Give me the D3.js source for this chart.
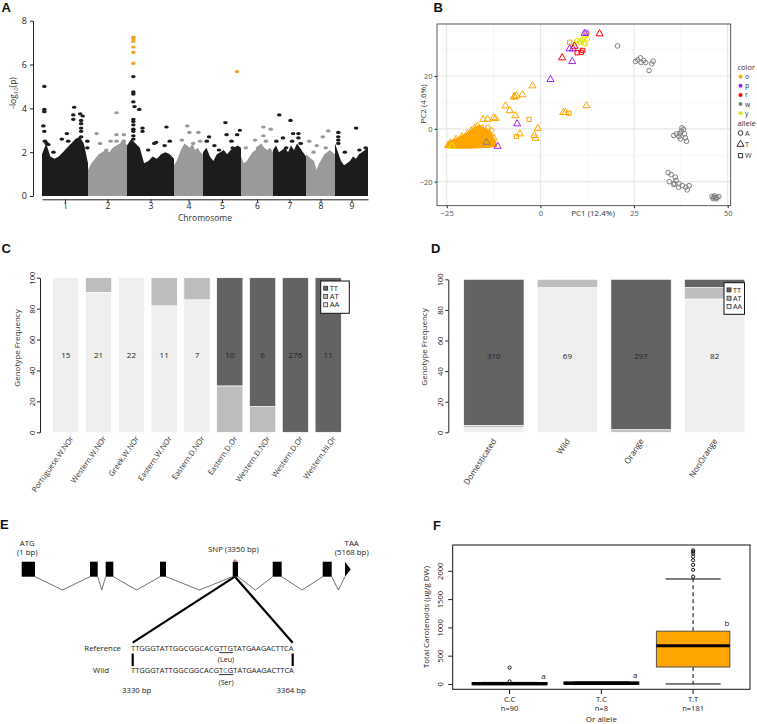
<!DOCTYPE html>
<html>
<head>
<meta charset="utf-8">
<script src="https://cdn.jsdelivr.net/npm/d3@7"></script>
<style>
  body { margin: 0; background: #fff; }
  text { font-family: "Open Sans", sans-serif; }
</style>
</head>
<body>
<svg id="fig" width="757" height="724"></svg>
<script>
// ---------- A: manhattan ----------
const chromosomes = ["1", "2", "3", "4", "5", "6", "7", "8", "9"];
const chromLength = [46, 39, 47, 29, 38, 32, 33, 29, 33];
// upper edge of the dense band of SNPs, read along each chromosome
const bandTops = [
  [1.9, 2.4, 1.8, 1.7, 1.8, 2.0, 2.2, 2.4, 2.6, 2.7, 2.4, 1.5],
  [1.2, 1.5, 1.7, 1.9, 2.0, 2.1, 2.0, 2.2, 2.3, 2.4, 2.6, 2.3],
  [2.3, 2.6, 2.4, 2.2, 1.5, 1.6, 1.8, 1.7, 1.9, 2.0, 1.9, 1.7],
  [1.4, 1.6, 1.9, 2.2, 2.4, 2.3, 2.2, 2.4, 2.1, 2.2, 2.0, 1.9],
  [2.0, 2.2, 1.8, 1.6, 1.9, 2.0, 2.1, 1.9, 2.1, 2.2, 2.3, 2.2],
  [1.8, 1.5, 1.6, 1.8, 2.0, 2.1, 2.3, 2.4, 2.2, 2.1, 2.2, 2.0],
  [2.1, 2.3, 2.0, 2.1, 2.2, 2.0, 2.3, 2.1, 2.4, 2.2, 2.0, 1.8],
  [1.9, 1.8, 1.7, 1.6, 1.2, 1.5, 1.7, 1.9, 2.0, 2.1, 2.0, 1.9],
  [2.4, 2.0, 1.6, 1.4, 1.5, 1.6, 1.8, 1.7, 1.9, 2.0, 2.1, 2.2]
];
// [chromosome index, position within chromosome (0-1), -log10(p)]
const topSnps = [
  [0, 0.05, 5.0], [0, 0.05, 3.95], [0, 0.05, 3.85], [0, 0.05, 2.95], [0, 0.03, 3.2], [0, 0.065, 2.5],
  [0, 0.1, 2.4], [0, 0.14, 2.35], [0, 0.25, 2.0], [0, 0.43, 2.6], [0, 0.54, 2.85], [0, 0.57, 2.5],
  [0, 0.65, 2.3], [0, 0.70, 4.05], [0, 0.68, 3.7], [0, 0.68, 3.5], [0, 0.77, 2.4], [0, 0.83, 3.75],
  [0, 0.885, 3.65], [0, 0.85, 3.45], [0, 0.85, 3.3], [0, 0.85, 3.1], [0, 0.85, 2.95], [0, 0.85, 2.7],
  [0, 0.985, 2.5], [0, 0.985, 2.2],
  [1, 0.22, 2.85], [1, 0.31, 2.4], [1, 0.73, 3.8], [1, 0.73, 2.8], [1, 0.73, 2.5], [1, 0.92, 2.8],
  [1, 0.92, 2.5], [1, 0.58, 2.5], [1, 0.47, 2.1],
  [2, 0.135, 5.45], [2, 0.135, 4.75], [2, 0.135, 4.65], [2, 0.135, 4.3], [2, 0.16, 4.08], [2, 0.26, 3.95],
  [2, 0.135, 3.5], [2, 0.135, 3.4], [2, 0.135, 3.25], [2, 0.135, 3.05], [2, 0.135, 2.95], [2, 0.135, 2.75],
  [2, 0.135, 2.6], [2, 0.33, 3.1], [2, 0.33, 2.95], [2, 0.62, 2.45], [2, 0.58, 2.4], [2, 0.84, 3.15],
  [2, 0.91, 2.5], [2, 0.8, 2.3], [2, 0.45, 2.1],
  [3, 0.46, 3.2], [3, 0.53, 2.9], [3, 0.84, 2.9], [3, 0.27, 2.55], [3, 0.66, 2.4], [3, 0.9, 2.5],
  [4, 0.16, 2.7], [4, 0.1, 2.5], [4, 0.3, 2.3], [4, 0.59, 3.35], [4, 0.62, 2.8], [4, 0.75, 2.5],
  [4, 0.9, 2.8], [4, 0.97, 3.0], [4, 0.78, 2.2], [4, 0.42, 2.1],
  [5, 0.44, 2.55], [5, 0.7, 3.15], [5, 0.93, 3.05], [5, 0.7, 2.75], [5, 0.15, 2.2], [5, 0.53, 2.2], [5, 0.78, 2.5],
  [6, 0.19, 3.7], [6, 0.53, 3.45], [6, 0.61, 2.85], [6, 0.77, 2.85], [6, 0.77, 2.65], [6, 0.3, 2.65],
  [6, 0.1, 2.5], [6, 0.58, 2.5], [6, 0.4, 2.2], [6, 0.84, 2.4],
  [7, 0.11, 2.5], [7, 0.58, 2.7], [7, 0.77, 2.97], [7, 0.37, 2.3], [7, 0.26, 2.0], [7, 0.68, 2.2],
  [8, 0.1, 2.9], [8, 0.1, 2.7], [8, 0.1, 2.55], [8, 0.1, 2.4], [8, 0.64, 3.1], [8, 0.93, 2.2],
  [8, 0.3, 2.0], [8, 0.74, 2.1]
];
const sigSnps = [
  [2, 0.135, 7.25], [2, 0.135, 7.15], [2, 0.135, 7.05], [2, 0.135, 6.8], [2, 0.135, 6.55],
  [2, 0.135, 6.05], [4, 0.895, 5.68]
];
const manhattanTicks = [0, 2, 4, 6, 8];

// ---------- B: PCA ----------
const colorKeys = ["o", "p", "r", "w", "y"];
const colorValues = ["#ffa500", "#a020f0", "#ff0000", "#808080", "#e6e600"];
const alleleKeys = ["A", "T", "W"];
// [PC1, PC2, color, allele]
const pcaPoints = [
  [-2.1, 16.3, "o", "T"], [-6.4, 12.6, "o", "T"], [-6.9, 12.0, "o", "T"], [-4.8, 12.9, "o", "T"],
  [-7.0, 12.3, "o", "T"], [-9.3, 8.7, "o", "T"], [-8.2, 6.9, "o", "T"], [-6.7, 5.0, "o", "T"],
  [-15.3, 3.5, "o", "T"], [-14.1, 3.6, "o", "T"], [-12.5, 4.2, "o", "T"], [-12.0, 3.9, "o", "T"],
  [-5.5, -1.9, "o", "T"], [-1.6, -2.5, "o", "T"], [-1.3, -3.6, "o", "T"], [-0.7, 0.2, "o", "T"],
  [6.1, 6.2, "o", "T"], [6.7, 6.2, "o", "T"], [12.3, 8.8, "o", "T"],
  [-16.8, 1.0, "o", "T"], [-17.5, 0.3, "o", "T"], [-18.5, -0.8, "o", "T"], [-19.5, -1.8, "o", "T"],
  [-21, -3, "o", "T"], [-22.5, -4, "o", "T"], [-24, -5.3, "o", "T"], [-24.7, -6.3, "o", "T"],
  [-23, -6.6, "o", "T"], [-21, -6.5, "o", "T"], [-19, -6.5, "o", "T"], [-17, -6.3, "o", "T"],
  [-15.5, -5.8, "o", "T"], [-13.5, -5, "o", "T"], [-12.5, -3.5, "o", "T"], [-13.5, -2, "o", "T"],
  [-14.5, -1, "o", "T"], [-15.5, 0, "o", "T"], [-16, -2, "o", "T"], [-18, -3, "o", "T"],
  [-20, -4.5, "o", "T"], [-22, -5.5, "o", "T"], [-14, -3.5, "o", "T"], [-12.8, -4.8, "o", "T"], [-15, -4, "o", "T"],
  [-3.0, 3.6, "o", "W"], [-6.4, -2.9, "o", "W"], [7.6, 5.9, "o", "W"], [7.8, 32.8, "o", "W"],
  [-15.5, -5.5, "o", "W"], [-20, -6.2, "o", "W"],
  [-14, 0.5, "o", "A"], [-13, -0.5, "o", "A"],
  [9.3, 32.4, "y", "A"], [10.5, 33.2, "y", "A"], [11.1, 33.7, "y", "A"], [11.7, 34.5, "y", "A"],
  [12.0, 35.3, "y", "A"], [11.6, 32.4, "y", "A"], [12.0, 32.2, "y", "A"], [10.7, 32.8, "y", "A"],
  [9.8, 33.4, "y", "A"], [12.5, 34.1, "y", "A"], [12.6, 36.0, "y", "A"],
  [-23.6, -6.6, "y", "T"],
  [11.8, 36.2, "p", "T"], [7.8, 30.3, "p", "T"], [8.7, 30.3, "p", "T"], [8.5, 25.5, "p", "T"],
  [2.7, 18.7, "p", "T"], [-6.2, 1.9, "p", "T"], [-11.4, -6.6, "p", "T"], [12.2, 36.3, "p", "W"],
  [15.8, 36.0, "r", "T"], [9.1, 31.3, "r", "T"], [5.8, 26.9, "r", "T"],
  [9.8, 28.8, "r", "W"], [10.9, 29.0, "r", "W"], [11.3, 29.7, "r", "W"],
  [-14.4, -5.1, "w", "T"],
  [20.6, 31.4, "w", "A"], [26.0, 26.1, "w", "A"], [26.7, 26.9, "w", "A"], [27.6, 25.9, "w", "A"],
  [28.1, 25.1, "w", "A"], [29.0, 22.1, "w", "A"], [29.7, 24.6, "w", "A"], [30.1, 25.6, "w", "A"],
  [26.9, 25.1, "w", "A"], [25.4, 25.5, "w", "A"],
  [37.8, 0.4, "w", "A"], [38.2, -0.2, "w", "A"], [37.6, -0.9, "w", "A"], [37.2, -1.7, "w", "A"],
  [38.5, -1.9, "w", "A"], [35.6, -2.5, "w", "A"], [37.0, -2.9, "w", "A"], [38.7, -3.4, "w", "A"],
  [37.4, -3.8, "w", "A"], [39.0, -4.7, "w", "A"], [36.3, -1.9, "w", "A"],
  [34.1, -16.6, "w", "A"], [34.9, -17.3, "w", "A"], [36.0, -18.3, "w", "A"], [34.4, -20.0, "w", "A"],
  [35.7, -20.6, "w", "A"], [37.0, -20.8, "w", "A"], [37.9, -21.5, "w", "A"], [38.8, -22.1, "w", "A"],
  [39.2, -23.1, "w", "A"], [39.7, -21.5, "w", "A"], [36.9, -22.1, "w", "A"], [35.6, -21.1, "w", "A"],
  [36.2, -19.5, "w", "A"],
  [45.8, -25.6, "w", "A"], [46.3, -25.9, "w", "A"], [46.7, -26.1, "w", "A"], [47.1, -25.9, "w", "A"],
  [47.6, -25.6, "w", "A"], [46.5, -25.4, "w", "A"], [46.1, -26.4, "w", "A"], [47.0, -26.5, "w", "A"]
];
// outline of the solid mass of overlapping orange triangles
const orangeMass = [
  [-25, -6.8], [-24.5, -5], [-22, -3.5], [-19.5, -1.5], [-17.5, 0.3], [-16.3, 1.3], [-15.2, 0.2],
  [-13.8, -1], [-12.8, -2.8], [-12, -5], [-11.8, -6.5], [-14, -7], [-18, -7.2], [-22, -7.2]
];
const pcaXTicks = [-25, 0, 25, 50];
const pcaYTicks = [-20, 0, 20];

// ---------- C / D: genotype frequencies ----------
const genotypes = ["TT", "AT", "AA"];
const genoColors = { TT: "#636363", AT: "#bdbdbd", AA: "#efefef" };
const groupsC = ["Portuguese.W.NOr", "Western.W.NOr", "Greek.W.NOr", "Eastern.W.NOr", "Eastern.D.NOr",
  "Eastern.D.Or", "Western.D.NOr", "Western.D.Or", "Western.HI.Or"];
const aaC = [100, 90.5, 100, 81.8, 85.7, 0, 0, 0, 0];
const atC = [0, 9.5, 0, 18.2, 14.3, 30, 16.7, 0, 0];
const ttC = [0, 0, 0, 0, 0, 70, 83.3, 100, 100];
const nC = [15, 21, 22, 11, 7, 10, 6, 276, 11];
const groupsD = ["Domesticated", "Wild", "Orange", "NonOrange"];
const aaD = [3, 94.5, 0, 87.1];
const atD = [1.5, 5.5, 1.7, 7.5];
const ttD = [95.5, 0, 98.3, 5.4];
const nD = [310, 69, 297, 82];
const freqTicks = [0, 20, 40, 60, 80, 100];

// ---------- E: gene model ----------
const exons = [[1, 210], [1074, 1195], [1320, 1440], [2173, 2267], [3315, 3398], [3943, 4084], [4728, 4870]];
const lastExon = [5078, 5168];
const snpPos = 3350;
const seqStart = 3330, seqEnd = 3364;
const refSeq = ["TTGGGTATTGGCGGCACG", "T", "T", "G", "TATGAAGACTTCA"];
const wildSeq = ["TTGGGTATTGGCGGCACG", "T", "C", "G", "TATGAAGACTTCA"];

// ---------- F: carotenoids by Or allele ----------
const alleles = ["C.C", "T.C", "T.T"];
const alleleN = [90, 8, 181];
const q1 = [0, 8, 300];
const med = [5, 15, 675];
const q3 = [12, 22, 933];
const whiskLo = [0, 2, 0];
const whiskHi = [28, 35, 1855];
const outliers = [[290, 45], [], [1895, 2017, 2105, 2187, 2250, 2303, 2338, 2362]];
const sigLetters = ["a", "a", "b"];
const letterY = [95, 110, 1030];
const caroTicks = [0, 500, 1000, 1500, 2000];

// =====================================================
const svg = d3.select("#fig");
const FONT = "'Open Sans', sans-serif";

function panelLabel(t, x, y) {
  svg.append("text").attr("x", x).attr("y", y).text(t)
    .style("font-family", "'Liberation Sans', Arial, sans-serif")
    .attr("font-weight", "bold").attr("font-size", 13).attr("fill", "#111");
}
function styleAxis(g, size, col) {
  g.attr("font-family", FONT).attr("font-size", size);
  g.selectAll("text").attr("fill", col || "#222");
  g.selectAll("line,path").attr("stroke", "#222");
}

// ----- panel A -----
panelLabel("A", 1.5, 12);
const chromStart = d3.cumsum([0, ...chromLength]);
const xA = d3.scaleLinear().domain([0, d3.sum(chromLength)]).range([42, 368]);
const yA = d3.scaleLinear().domain([0, 8]).range([196, 20.7]);
const chromColor = i => (i % 2 === 0 ? "#1c1c1c" : "#9a9a9a");

const areaA = d3.area().x(d => xA(d.x)).y0(yA(0)).y1(d => yA(d.v));
bandTops.forEach((tops, i) => {
  const pts = tops.map((v, j) => ({ x: chromStart[i] + j / (tops.length - 1) * chromLength[i], v }));
  svg.append("path").datum(pts).attr("d", areaA).attr("fill", chromColor(i));
});
svg.append("g").selectAll("ellipse").data(topSnps).join("ellipse")
  .attr("cx", d => xA(chromStart[d[0]] + d[1] * chromLength[d[0]]))
  .attr("cy", d => yA(d[2]))
  .attr("rx", 2.3).attr("ry", 1.6)
  .attr("fill", d => chromColor(d[0]));
svg.append("g").selectAll("ellipse").data(sigSnps).join("ellipse")
  .attr("cx", d => xA(chromStart[d[0]] + d[1] * chromLength[d[0]]))
  .attr("cy", d => yA(d[2]))
  .attr("rx", 2.3).attr("ry", 1.6)
  .attr("fill", "#f3a521");

const ayA = svg.append("g").attr("transform", "translate(33,0)")
  .call(d3.axisLeft(yA).tickValues(manhattanTicks).tickSize(3).tickSizeOuter(0).tickPadding(3));
styleAxis(ayA, 9);
const chromMid = chromosomes.map((c, i) => chromStart[i] + chromLength[i] / 2);
const axA = svg.append("g").attr("transform", "translate(0,199.3)")
  .call(d3.axisBottom(xA).tickValues(chromMid).tickFormat((d, i) => chromosomes[i]).tickSize(3).tickSizeOuter(0).tickPadding(1));
styleAxis(axA, 8.5);
svg.append("text").attr("x", 205).attr("y", 221).attr("text-anchor", "middle")
  .attr("font-size", 8.5).attr("fill", "#333").text("Chromosome");
const ylabA = svg.append("text").attr("transform", "translate(16,93) rotate(-90)")
  .attr("text-anchor", "middle").attr("font-size", 8.5).attr("fill", "#333");
ylabA.append("tspan").text("-log");
ylabA.append("tspan").attr("font-size", 6).attr("dy", 2).text("10");
ylabA.append("tspan").attr("dy", -2).text("(p)");

// ----- panel B -----
panelLabel("B", 433.5, 12);
const xB = d3.scaleLinear().domain([-27.6, 50.8]).range([437, 730.7]);
const yB = d3.scaleLinear().domain([-29.1, 39.7]).range([205.7, 24]);
const gB = svg.append("g");
const minorX = [-12.5, 12.5, 37.5], minorY = [-10, 10, 30];
gB.selectAll(".mx").data(minorX).join("line")
  .attr("x1", d => xB(d)).attr("x2", d => xB(d)).attr("y1", 24).attr("y2", 205.7)
  .attr("stroke", "#f2f2f2").attr("stroke-width", 0.6);
gB.selectAll(".my").data(minorY).join("line")
  .attr("y1", d => yB(d)).attr("y2", d => yB(d)).attr("x1", 437).attr("x2", 730.7)
  .attr("stroke", "#f2f2f2").attr("stroke-width", 0.6);
gB.selectAll(".Mx").data(pcaXTicks).join("line")
  .attr("x1", d => xB(d)).attr("x2", d => xB(d)).attr("y1", 24).attr("y2", 205.7)
  .attr("stroke", "#e6e6e6").attr("stroke-width", 1.1);
gB.selectAll(".My").data(pcaYTicks).join("line")
  .attr("y1", d => yB(d)).attr("y2", d => yB(d)).attr("x1", 437).attr("x2", 730.7)
  .attr("stroke", "#e6e6e6").attr("stroke-width", 1.1);

gB.append("path").datum(orangeMass)
  .attr("d", d3.line().x(d => xB(d[0])).y(d => yB(d[1])).curve(d3.curveLinearClosed))
  .attr("fill", "#ffa500").attr("stroke", "#ffa500").attr("stroke-width", 1.5);

const shapeOf = { A: d3.symbolCircle, T: d3.symbolTriangle, W: d3.symbolSquare };
const sizeOf = { A: 17, T: 22, W: 18 };
const colorOf = k => colorValues[colorKeys.indexOf(k)];
gB.selectAll(".pt").data(pcaPoints).join("path")
  .attr("transform", d => `translate(${xB(d[0])},${yB(d[1])})`)
  .attr("d", d => d3.symbol().type(shapeOf[d[3]]).size(sizeOf[d[3]])())
  .attr("fill", "none").attr("stroke", d => colorOf(d[2])).attr("stroke-width", 1);

gB.append("rect").attr("x", 437).attr("y", 24).attr("width", 293.7).attr("height", 181.7)
  .attr("fill", "none").attr("stroke", "#333").attr("stroke-width", 0.8);
const axB = gB.append("g").attr("transform", "translate(0,205.7)")
  .call(d3.axisBottom(xB).tickValues(pcaXTicks).tickSize(2.5).tickPadding(2).tickFormat(d => String(d).replace("-", "\u2212")));
axB.select(".domain").remove();
styleAxis(axB, 7.5, "#555");
const ayB = gB.append("g").attr("transform", "translate(437,0)")
  .call(d3.axisLeft(yB).tickValues(pcaYTicks).tickSize(2.5).tickPadding(2).tickFormat(d => String(d).replace("-", "\u2212")));
ayB.select(".domain").remove();
styleAxis(ayB, 7.5, "#555");
gB.append("text").attr("x", 593).attr("y", 215.5).attr("text-anchor", "middle")
  .attr("font-size", 8).attr("fill", "#333").text("PC1 (12.4%)");
gB.append("text").attr("transform", "translate(425.5,104) rotate(-90)").attr("text-anchor", "middle")
  .attr("font-size", 8).attr("fill", "#333").text("PC2 (4.6%)");

// legend B
const lgB = gB.append("g");
lgB.append("text").attr("x", 737.5).attr("y", 70).attr("font-size", 7.5).attr("fill", "#333").text("color");
colorKeys.forEach((k, i) => {
  const y = 76.5 + i * 9.2;
  lgB.append("circle").attr("cx", 740.5).attr("cy", y).attr("r", 2).attr("fill", colorValues[i]);
  lgB.append("text").attr("x", 745).attr("y", y + 2.4).attr("font-size", 6.8).attr("fill", "#333").text(k);
});
lgB.append("text").attr("x", 737.5).attr("y", 126).attr("font-size", 7.5).attr("fill", "#333").text("allele");
alleleKeys.forEach((k, i) => {
  const y = 133 + i * 11.3;
  lgB.append("path").attr("transform", `translate(740.5,${y})`)
    .attr("d", d3.symbol().type(shapeOf[k]).size(sizeOf[k])())
    .attr("fill", "none").attr("stroke", "#333").attr("stroke-width", 1);
  lgB.append("text").attr("x", 745).attr("y", y + 2.6).attr("font-size", 7.2).attr("fill", "#333").text(k);
});

// ----- panels C and D -----
function genoPanel(opt) {
  const rows = opt.groups.map((g, i) => ({ group: g, AA: opt.aa[i], AT: opt.at[i], TT: opt.tt[i], n: opt.n[i] }));
  const stack = d3.stack().keys(["AA", "AT", "TT"])(rows);
  const x = d3.scaleBand().domain(opt.groups).range(opt.xr).paddingInner(opt.pin).paddingOuter(0.1);
  const y = d3.scaleLinear().domain([0, 100]).range(opt.yr);
  const g = svg.append("g");
  g.selectAll("g.layer").data(stack).join("g")
    .attr("fill", d => genoColors[d.key])
    .selectAll("rect").data(d => d).join("rect")
    .attr("x", d => x(d.data.group)).attr("width", x.bandwidth())
    .attr("y", d => y(d[1])).attr("height", d => Math.max(0, y(d[0]) - y(d[1])))
    .attr("stroke", "#fff").attr("stroke-width", 0.7);
  g.selectAll(".cnt").data(rows).join("text")
    .attr("x", d => x(d.group) + x.bandwidth() / 2).attr("y", y(50)).attr("dy", "0.35em")
    .attr("text-anchor", "middle").attr("font-size", 8).attr("fill", "#222").text(d => d.n);
  const ax = g.append("g").attr("transform", `translate(${opt.axisX},0)`)
    .call(d3.axisLeft(y).tickValues(freqTicks).tickSize(3).tickSizeOuter(0));
  styleAxis(ax, 7.5);
  ax.selectAll(".tick text").attr("x", 0).attr("dy", 0).attr("text-anchor", "middle")
    .attr("transform", "translate(-5.5,0) rotate(-90)");
  g.append("text").attr("transform", `translate(${opt.ylabX},${opt.ylabY}) rotate(-90)`)
    .attr("text-anchor", "middle").attr("font-size", 8).attr("fill", "#333").text("Genotype Frequency");
  g.selectAll(".cat").data(opt.groups).join("text")
    .attr("transform", d => `translate(${x(d) + x.bandwidth() / 2 + opt.labDx},${opt.labY}) rotate(${opt.angle})`)
    .attr("text-anchor", "end").attr("font-size", opt.labSize).attr("fill", "#333").text(d => d);
  // legend
  const [lx, ly, lw, lh, fs] = opt.leg;
  const lg = g.append("g");
  lg.append("rect").attr("x", lx).attr("y", ly).attr("width", lw).attr("height", lh)
    .attr("fill", "#fff").attr("stroke", "#111").attr("stroke-width", 1);
  genotypes.forEach((k, i) => {
    const yy = ly + 7.2 + i * 8.3;
    lg.append("rect").attr("x", lx + 3).attr("y", yy - 2).attr("width", 4).attr("height", 4)
      .attr("fill", genoColors[k]).attr("stroke", "#222").attr("stroke-width", 0.7);
    lg.append("text").attr("x", lx + 9).attr("y", yy + 2.6).attr("font-size", fs).attr("fill", "#222").text(k);
  });
}
panelLabel("C", 1.5, 253);
genoPanel({
  groups: groupsC, aa: aaC, at: atC, tt: ttC, n: nC, xr: [49.4, 344.6], pin: 0.2,
  yr: [432.3, 277.7], axisX: 40, ylabX: 20, ylabY: 348, labDx: 8, labY: 438.5, angle: -55, labSize: 7.6,
  leg: [320.7, 281, 28.6, 32.3, 7.6]
});
panelLabel("D", 431, 253);
genoPanel({
  groups: groupsD, aa: aaD, at: atD, tt: ttD, n: nD, xr: [456.3, 752.2], pin: 0.18,
  yr: [432.3, 279.3], axisX: 448.3, ylabX: 427, ylabY: 347, labDx: 3, labY: 441, angle: -57, labSize: 8.2,
  leg: [724, 282.7, 20.5, 31.6, 7.2]
});

// ----- panel E -----
panelLabel("E", 0, 529);
const xE = d3.scaleLinear().domain([1, 5168]).range([21.7, 350.7]);
const exTop = 561.7, exBot = 576.7, intronLow = 590;
const gE = svg.append("g");
gE.selectAll(".exon").data(exons).join("rect")
  .attr("x", d => xE(d[0])).attr("width", d => xE(d[1]) - xE(d[0]))
  .attr("y", exTop).attr("height", exBot - exTop).attr("fill", "#000");
gE.append("path")
  .attr("d", `M${xE(lastExon[0])},${exTop}L${xE(lastExon[1])},${(exTop + exBot) / 2}L${xE(lastExon[0])},${exBot}Z`)
  .attr("fill", "#000");
const joins = exons.map((e, i) => [e[1], i + 1 < exons.length ? exons[i + 1][0] : lastExon[0]]);
gE.selectAll(".intron").data(joins).join("path")
  .attr("d", d => `M${xE(d[0])},${exBot}L${(xE(d[0]) + xE(d[1])) / 2},${intronLow}L${xE(d[1])},${exBot}`)
  .attr("fill", "none").attr("stroke", "#111").attr("stroke-width", 0.6);
const lab = (t, x, y, a, fs) => gE.append("text").attr("x", x).attr("y", y).attr("text-anchor", a || "middle")
  .attr("font-size", fs || 7.8).attr("fill", "#222").text(t);
lab("ATG", xE(exons[0][0]) + 5.5, 545.5);
lab("(1 bp)", xE(exons[0][0]) + 5.5, 555);
lab("TAA", xE(lastExon[1]) + 1, 545.5);
lab("(5168 bp)", xE(lastExon[1]) + 1, 555);
lab("SNP (3350 bp)", xE(snpPos) - 1.5, 551.5);
gE.append("text").attr("x", xE(snpPos)).attr("y", 564).attr("text-anchor", "middle")
  .attr("font-size", 7).attr("fill", "#d0202a").text("*");

const xSeq = d3.scaleLinear().domain([seqStart, seqEnd]).range([132.7, 292.7]);
const zoomTop = [xE(snpPos), exBot];
[seqStart, seqEnd].forEach(p => {
  gE.append("line").attr("x1", zoomTop[0]).attr("y1", zoomTop[1]).attr("x2", xSeq(p)).attr("y2", 642.7)
    .attr("stroke", "#000").attr("stroke-width", 2.2);
  gE.append("line").attr("x1", xSeq(p)).attr("x2", xSeq(p)).attr("y1", 653.5).attr("y2", 666)
    .attr("stroke", "#000").attr("stroke-width", 2.2);
});
// sequence drawn as consecutive text pieces, sized so the whole run spans 3330..3364
function seqLine(parts, y, hi, hiCol) {
  const probe = gE.append("text").attr("font-size", 10).text(parts.join(""));
  const fs = 10 * (xSeq(seqEnd) - xSeq(seqStart) + 3) / probe.node().getComputedTextLength();
  probe.remove();
  let x = xSeq(seqStart) - 1.7;
  const xs = [];
  parts.forEach((p, i) => {
    xs.push(x);
    const t = gE.append("text").attr("x", x).attr("y", y).attr("font-size", fs)
      .attr("fill", i === hi ? hiCol : "#222").text(p);
    x += t.node().getComputedTextLength();
  });
  xs.push(x);
  return xs;
}
const refX = seqLine(refSeq, 650.5, 2, "#d0202a");
const wildX = seqLine(wildSeq, 672.5, 2, "#3a7bd5");
lab("Reference", 121, 650.5, "end");
lab("Wild", 109, 672.5, "end");
[[refX, 652.6, "(Leu)", 662], [wildX, 674.6, "(Ser)", 684.5]].forEach(([xs, uy, t, ty]) => {
  gE.append("line").attr("x1", xs[1]).attr("x2", xs[4]).attr("y1", uy).attr("y2", uy)
    .attr("stroke", "#000").attr("stroke-width", 0.8);
  lab(t, (xs[1] + xs[4]) / 2, ty, "middle", 7.2);
});
lab(seqStart + " bp", xSeq(seqStart) + 4, 693);
lab(seqEnd + " bp", xSeq(seqEnd) - 1.5, 693);

// ----- panel F -----
panelLabel("F", 433, 530);
const xF = d3.scaleLinear().domain([0.38, 3.62]).range([452.7, 750]);
const yF = d3.scaleLinear().domain([-94, 2456]).range([689.3, 545]);
const gF = svg.append("g");
const boxes = alleles.map((a, i) => ({ a, i: i + 1, q1: q1[i], med: med[i], q3: q3[i], lo: whiskLo[i], hi: whiskHi[i], out: outliers[i] }));
const hw = 0.4;
boxes.forEach(b => {
  const cx = xF(b.i);
  gF.append("line").attr("x1", cx).attr("x2", cx).attr("y1", yF(b.q3)).attr("y2", yF(b.hi))
    .attr("stroke", "#000").attr("stroke-width", 1).attr("stroke-dasharray", "4,3");
  gF.append("line").attr("x1", cx).attr("x2", cx).attr("y1", yF(b.q1)).attr("y2", yF(b.lo))
    .attr("stroke", "#000").attr("stroke-width", 1).attr("stroke-dasharray", "4,3");
  [b.lo, b.hi].forEach(v => gF.append("line").attr("x1", xF(b.i - 0.3)).attr("x2", xF(b.i + 0.3))
    .attr("y1", yF(v)).attr("y2", yF(v)).attr("stroke", "#000").attr("stroke-width", 1));
  gF.append("rect").attr("x", xF(b.i - hw)).attr("width", xF(b.i + hw) - xF(b.i - hw))
    .attr("y", yF(b.q3)).attr("height", Math.max(0.5, yF(b.q1) - yF(b.q3)))
    .attr("fill", "#ffa500").attr("stroke", b.q3 - b.q1 > 100 ? "#5a5040" : "#000").attr("stroke-width", b.q3 - b.q1 > 100 ? 1 : 2.5);
  gF.append("line").attr("x1", xF(b.i - hw)).attr("x2", xF(b.i + hw)).attr("y1", yF(b.med)).attr("y2", yF(b.med))
    .attr("stroke", "#000").attr("stroke-width", 3);
  gF.selectAll(null).data(b.out).join("circle")
    .attr("cx", cx).attr("cy", d => yF(d)).attr("r", 1.6)
    .attr("fill", "none").attr("stroke", "#000").attr("stroke-width", 0.9);
});
gF.append("rect").attr("x", 452.7).attr("y", 545).attr("width", 297.3).attr("height", 144.3)
  .attr("fill", "none").attr("stroke", "#111").attr("stroke-width", 1);
const ayF = gF.append("g").attr("transform", "translate(452.7,0)")
  .call(d3.axisLeft(yF).tickValues(caroTicks).tickSize(4.5).tickFormat(d3.format("d")));
ayF.select(".domain").remove();
styleAxis(ayF, 7.5);
ayF.selectAll(".tick text").attr("x", 0).attr("dy", 0).attr("text-anchor", "middle")
  .attr("transform", "translate(-9.4,0) rotate(-90)");
gF.selectAll(".xt").data(boxes).join("line")
  .attr("x1", d => xF(d.i)).attr("x2", d => xF(d.i)).attr("y1", 689.3).attr("y2", 694)
  .attr("stroke", "#111");
gF.selectAll(".xl").data(boxes).join("text")
  .attr("x", d => xF(d.i)).attr("y", 702).attr("text-anchor", "middle").attr("font-size", 7.5).attr("fill", "#222")
  .text(d => d.a);
gF.selectAll(".xn").data(boxes).join("text")
  .attr("x", d => xF(d.i)).attr("y", 711).attr("text-anchor", "middle").attr("font-size", 7.5).attr("fill", "#222")
  .text((d, i) => "n=" + alleleN[i]);
gF.append("text").attr("x", xF(2)).attr("y", 722).attr("text-anchor", "middle").attr("font-size", 8).attr("fill", "#222")
  .text("Or allele");
gF.selectAll(".sig").data(sigLetters).join("text")
  .attr("x", (d, i) => xF(i + 1.37)).attr("y", (d, i) => yF(letterY[i])).attr("text-anchor", "middle")
  .attr("font-size", 8).attr("fill", "#222").text(d => d);
gF.append("text").attr("transform", `translate(428.5,${617}) rotate(-90)`).attr("text-anchor", "middle")
  .attr("font-size", 7.8).attr("fill", "#222").text("Total Carotenoids (\u03bcg/g DW)");
</script>
</body>
</html>
